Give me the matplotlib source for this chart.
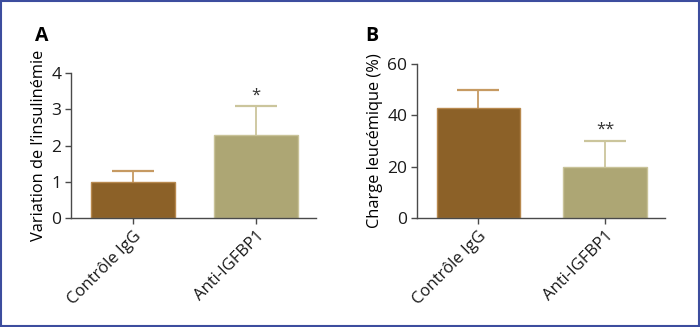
import matplotlib.pyplot as plt
from matplotlib.patches import Rectangle

plt.rcParams['font.family'] = ['Open Sans', 'DejaVu Sans']

# Data
groups = ["Contrôle IgG", "Anti-IGFBP1"]
insulin_mean = [1.0, 2.3]
insulin_err = [0.3, 0.78]
leuk_mean = [43, 20]
leuk_err = [7, 10]
stars_a = ["", "*"]
stars_b = ["", "**"]

bar_colors = ["#8c6128", "#ada674"]
edge_colors = ["#b8894e", "#c9c399"]
err_colors = ["#c69a62", "#cbc59c"]
spine_color = "#4a4a4a"

fig = plt.figure(figsize=(7, 3.27), dpi=100)
fig.patches.append(Rectangle((0.001, 0.002), 0.998, 0.995, transform=fig.transFigure,
                             fill=False, edgecolor="#3c4d9e", linewidth=1.5))


def panel(ax, means, errs, stars, ylim, yticks, ylabel, star_y, width, xlim):
    x = list(range(len(groups)))
    for i in x:
        ax.bar(i, means[i], width=width, color=bar_colors[i], edgecolor=edge_colors[i],
               linewidth=1, zorder=2)
        eb = ax.errorbar(i, means[i], yerr=[[0], [errs[i]]], fmt="none", ecolor=err_colors[i],
                         elinewidth=1.3, capsize=14.8, capthick=1.6, zorder=1)
        eb[1][0].set_visible(False)  # no cap at bar top
        if stars[i]:
            ax.text(i, star_y, stars[i], ha="center", va="center", fontsize=12, color="#333333")
    ax.set_xlim(xlim)
    ax.set_ylim(ylim)
    ax.set_yticks(yticks)
    ax.set_xticks(x)
    ax.set_xticklabels(groups, rotation=45, ha="right", rotation_mode="anchor", fontsize=12)
    ax.set_ylabel(ylabel, fontsize=11.8, labelpad=3)
    for s in ["top", "right"]:
        ax.spines[s].set_visible(False)
    for s in ["left", "bottom"]:
        ax.spines[s].set_color(spine_color)
        ax.spines[s].set_linewidth(1)
    ax.tick_params(axis="y", labelsize=12.5)
    ax.tick_params(colors=spine_color, labelcolor="#1a1a1a", length=4, width=1, pad=3)


ax1 = fig.add_axes([0.1014, 0.3333, 0.35, 0.4434])
panel(ax1, insulin_mean, insulin_err, stars_a, (0, 4), [0, 1, 2, 3, 4],
      "Variation de l’insulinémie", 3.37, 0.68, (-0.504, 1.488))
fig.text(0.05, 0.89, "A", fontsize=14, fontweight="bold", ha="left", va="center")

ax2 = fig.add_axes([0.5957, 0.3333, 0.3543, 0.4710])
panel(ax2, leuk_mean, leuk_err, stars_b, (0, 60), [0, 20, 40, 60],
      "Charge leucémique (%)", 34.3, 0.66, (-0.486, 1.474))
fig.text(0.522, 0.89, "B", fontsize=14, fontweight="bold", ha="left", va="center")

plt.savefig("out.png", dpi=100)
